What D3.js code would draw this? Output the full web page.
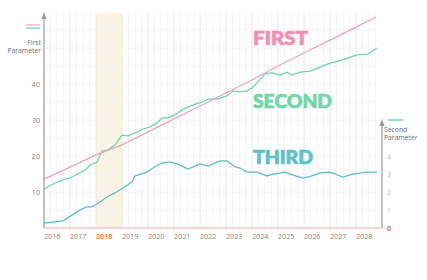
<!DOCTYPE html>
<html>
<head>
<meta charset="utf-8">
<script src="https://cdn.jsdelivr.net/npm/d3@7"></script>
<style>
  body { margin: 0; background: #fff; }
  svg { display: block; font-family: "Open Sans", sans-serif; }
</style>
</head>
<body>
<div class="graph"></div>
<script>
// years on the x axis
const years = [2016, 2017, 2018, 2019, 2020, 2021, 2022, 2023, 2024, 2025, 2026, 2027, 2028];
const leftTicks = [10, 20, 30, 40];
const rightTicks = [0, 1, 2, 3, 4];

// first parameter (left scale)
const firstT = [2016, 2017, 2018, 2019, 2020, 2021, 2022, 2023, 2024, 2025, 2026, 2027, 2028, 2028.77];
const firstV = [13.6, 16.9, 20.3, 23.1, 26.7, 30.3, 33.9, 37.5, 41.1, 45.0, 48.6, 52.2, 55.8, 58.6];

// second (left scale)
const secondT = [2016.00, 2016.42, 2016.81, 2017.00, 2017.38, 2017.58, 2017.77, 2018.04, 2018.23, 2018.46, 2018.73, 2019.00, 2019.23, 2019.50, 2019.81, 2020.08, 2020.35, 2020.54, 2020.77, 2021.04, 2021.31, 2021.54, 2021.81, 2022.08, 2022.31, 2022.65, 2023.04, 2023.27, 2023.54, 2023.81, 2024.00, 2024.19, 2024.50, 2024.77, 2025.08, 2025.35, 2025.54, 2025.85, 2026.23, 2026.62, 2027.00, 2027.50, 2028.04, 2028.46, 2028.81];
const secondV = [10.8, 12.5, 13.6, 13.9, 15.3, 16.1, 17.5, 18.3, 21.4, 21.7, 23.1, 25.8, 25.6, 26.4, 27.5, 28.1, 29.2, 30.6, 30.6, 31.4, 32.8, 33.6, 34.4, 35.0, 35.8, 35.8, 36.7, 38.1, 37.8, 38.1, 38.9, 40.3, 42.8, 43.1, 42.5, 43.3, 42.5, 43.3, 43.6, 44.7, 45.8, 46.7, 48.1, 48.3, 50.0];

// third (right scale)
const thirdT = [2016.00, 2016.73, 2017.08, 2017.38, 2017.65, 2017.85, 2018.15, 2018.42, 2018.73, 2019.04, 2019.38, 2019.50, 2019.96, 2020.19, 2020.54, 2020.85, 2021.12, 2021.54, 2022.00, 2022.31, 2022.77, 2023.04, 2023.35, 2023.54, 2023.81, 2024.19, 2024.58, 2024.81, 2025.27, 2025.58, 2025.96, 2026.31, 2026.62, 2027.00, 2027.50, 2027.88, 2028.42, 2028.81];
const thirdV = [0.28, 0.40, 0.73, 1.02, 1.19, 1.19, 1.47, 1.75, 1.98, 2.26, 2.60, 2.94, 3.16, 3.39, 3.67, 3.73, 3.62, 3.33, 3.62, 3.50, 3.79, 3.79, 3.45, 3.39, 3.16, 3.16, 2.94, 3.05, 3.16, 2.99, 2.82, 2.94, 3.11, 3.16, 2.88, 3.05, 3.16, 3.16];

const highlightYear = 2018;

const w = 427;
const h = 280;

const x = d3.scaleLinear().domain([2016, 2029]).range([44, 382]);
const yL = d3.scaleLinear().domain([0, 10]).range([228, 192]);
const yR = d3.scaleLinear().domain([0, 1]).range([228, 210.3]);

const svg = d3.select(".graph").append("svg")
    .attr("width", w)
    .attr("height", h);

// highlighted year
svg.append("rect")
    .attr("x", x(highlightYear))
    .attr("y", 13)
    .attr("width", x(highlightYear + 1) - x(highlightYear))
    .attr("height", 228 - 13)
    .attr("fill", "#fdf3e2");

// grid
const quarters = d3.range(2016.25, 2028.8, 0.25);
svg.append("g").selectAll("line")
    .data(quarters)
    .enter().append("line")
    .attr("x1", d => x(d)).attr("x2", d => x(d))
    .attr("y1", 13).attr("y2", 228)
    .attr("stroke", d => Number.isInteger(d) ? "#e6e6e6" : "#f4f4f4")
    .attr("stroke-width", 1);

svg.append("g").selectAll("line")
    .data(d3.range(5, 60, 5))
    .enter().append("line")
    .attr("x1", 44).attr("x2", x(2028.75))
    .attr("y1", d => yL(d)).attr("y2", d => yL(d))
    .attr("stroke", "#f4f4f4");

// axes
svg.append("line")
    .attr("x1", 44).attr("x2", 44).attr("y1", 15).attr("y2", 228)
    .attr("stroke", "#9a9a9a").attr("stroke-width", 1.2);
svg.append("path")
    .attr("d", "M41.5,19 L44,12 L46.5,19 Z").attr("fill", "#9a9a9a");

svg.append("line")
    .attr("x1", 382).attr("x2", 382).attr("y1", 122).attr("y2", 228)
    .attr("stroke", "#9a9a9a").attr("stroke-width", 1.2);
svg.append("path")
    .attr("d", "M379.5,126 L382,119 L384.5,126 Z").attr("fill", "#9a9a9a");

svg.append("line")
    .attr("x1", 44).attr("x2", 382).attr("y1", 228).attr("y2", 228)
    .attr("stroke", "#f2a9ae").attr("stroke-width", 1);

// tick labels
svg.append("g").selectAll("text")
    .data(years)
    .enter().append("text")
    .attr("x", d => x(d))
    .attr("y", 239)
    .attr("font-size", 7.2)
    .attr("font-weight", d => d === highlightYear ? 700 : 400)
    .attr("fill", d => d === highlightYear ? "#f0883a" : "#858585")
    .text(d => d);

svg.append("g").selectAll("text")
    .data(leftTicks)
    .enter().append("text")
    .attr("x", 40)
    .attr("y", d => yL(d) + 2.5)
    .attr("text-anchor", "end")
    .attr("font-size", 7.2)
    .attr("fill", "#858585")
    .text(d => d);

svg.append("g").selectAll("text")
    .data(rightTicks)
    .enter().append("text")
    .attr("x", 387)
    .attr("y", d => yR(d) + 2.5)
    .attr("font-size", 7)
    .attr("font-weight", d => d === 0 ? 700 : 400)
    .attr("fill", d => d === 0 ? "#e9686a" : "#c2c2c2")
    .text(d => d);

// axis titles and legend swatches
svg.append("line").attr("x1", 26).attr("x2", 40).attr("y1", 25).attr("y2", 25)
    .attr("stroke", "#eea3bd").attr("stroke-width", 1.2);
svg.append("line").attr("x1", 26).attr("x2", 40).attr("y1", 28).attr("y2", 28)
    .attr("stroke", "#6fd7a8").attr("stroke-width", 1.2);
svg.append("text").attr("x", 41).attr("y", 45).attr("text-anchor", "end")
    .attr("font-size", 6.8).attr("fill", "#707070").text("First");
svg.append("text").attr("x", 41).attr("y", 53).attr("text-anchor", "end")
    .attr("font-size", 6.8).attr("fill", "#707070").text("Parameter");

svg.append("line").attr("x1", 388).attr("x2", 403).attr("y1", 120).attr("y2", 120)
    .attr("stroke", "#5cbec6").attr("stroke-width", 1.2);
svg.append("text").attr("x", 384).attr("y", 132)
    .attr("font-size", 6.8).attr("fill", "#707070").text("Second");
svg.append("text").attr("x", 384).attr("y", 140)
    .attr("font-size", 6.8).attr("fill", "#707070").text("Parameter");

// series lines
const lineL = d3.line().x(d => x(d[0])).y(d => yL(d[1]));
const lineR = d3.line().x(d => x(d[0])).y(d => yR(d[1]));

svg.append("path")
    .datum(d3.zip(thirdT, thirdV))
    .attr("d", lineR)
    .attr("fill", "none").attr("stroke", "#5cbec6").attr("stroke-width", 1.3);

svg.append("path")
    .datum(d3.zip(secondT, secondV))
    .attr("d", lineL)
    .attr("fill", "none").attr("stroke", "#6fd7a8").attr("stroke-width", 1.3);

svg.append("path")
    .datum(d3.zip(firstT, firstV))
    .attr("d", lineL)
    .attr("fill", "none").attr("stroke", "#eea3bd").attr("stroke-width", 1.3);

// big labels
const labels = [
    { text: "FIRST", y: 45, color: "#f48fb4", len: 55 },
    { text: "SECOND", y: 108, color: "#6fd8a6", len: 79 },
    { text: "THIRD", y: 164, color: "#5cc2ca", len: 60 }
];
svg.append("g").selectAll("text")
    .data(labels)
    .enter().append("text")
    .attr("x", 253)
    .attr("y", d => d.y)
    .attr("font-family", "Lato, 'Open Sans', sans-serif")
    .attr("font-weight", 900)
    .attr("font-size", 18)
    .attr("fill", d => d.color)
    .attr("stroke", d => d.color)
    .attr("stroke-width", 0.7)
    .attr("textLength", d => d.len)
    .attr("lengthAdjust", "spacingAndGlyphs")
    .text(d => d.text);
</script>
</body>
</html>
